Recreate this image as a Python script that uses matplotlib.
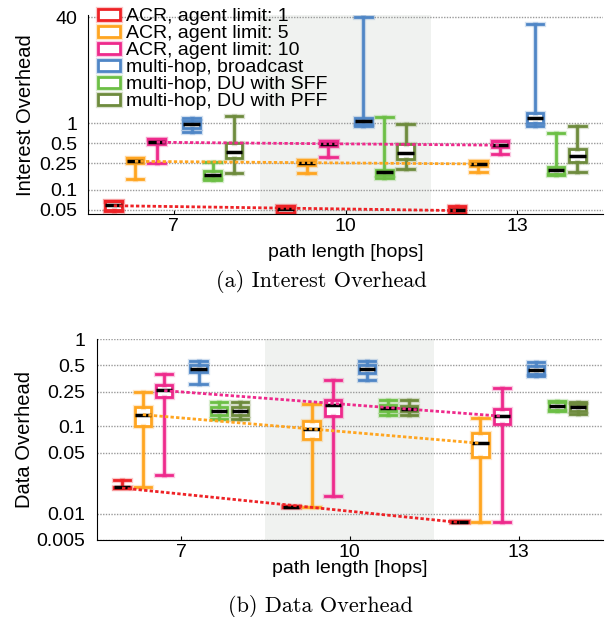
import matplotlib
matplotlib.use('Agg')
import matplotlib.pyplot as plt
import matplotlib.patheffects as pe
from matplotlib.ticker import NullLocator
import numpy as np

plt.rcParams['font.family'] = ['Liberation Sans', 'DejaVu Sans']

# ----------------------------------------------------------------
# data: every box is (whisker low, q1, median, q3, whisker high)
# one row per path length
# ----------------------------------------------------------------
path_lengths = [7, 10, 13]
series_names = ['ACR, agent limit: 1', 'ACR, agent limit: 5', 'ACR, agent limit: 10',
                'multi-hop, broadcast', 'multi-hop, DU with SFF', 'multi-hop, DU with PFF']

interest_acr1 = [[0.048, 0.049, 0.058, 0.067, 0.068],
                 [0.044, 0.045, 0.0515, 0.056, 0.057],
                 [0.043, 0.044, 0.049, 0.055, 0.056]]
interest_acr5 = [[0.147, 0.254, 0.268, 0.30, 0.30],
                 [0.179, 0.234, 0.254, 0.278, 0.278],
                 [0.183, 0.226, 0.245, 0.27, 0.27]]
interest_acr10 = [[0.254, 0.48, 0.52, 0.586, 0.586],
                  [0.31, 0.45, 0.49, 0.54, 0.54],
                  [0.347, 0.44, 0.47, 0.54, 0.54]]
interest_bcast = [[0.75, 0.86, 0.99, 1.1, 1.19],
                  [0.91, 0.97, 1.07, 1.22, 40],
                  [0.91, 1.02, 1.19, 1.42, 31.6]]
interest_sff = [[0.142, 0.151, 0.169, 0.189, 0.26],
                [0.15, 0.169, 0.183, 0.20, 1.25],
                [0.169, 0.175, 0.196, 0.218, 0.705]]
interest_pff = [[0.179, 0.30, 0.368, 0.51, 1.29],
                [0.208, 0.29, 0.36, 0.48, 0.97],
                [0.187, 0.26, 0.32, 0.41, 0.90]]

data_acr1 = [[0.0199, 0.0199, 0.0201, 0.0203, 0.0244],
             [0.0119, 0.0119, 0.012, 0.0121, 0.0121],
             [0.008, 0.008, 0.0081, 0.0082, 0.0082]]
data_acr5 = [[0.0201, 0.102, 0.136, 0.165, 0.248],
             [0.012, 0.0718, 0.0934, 0.114, 0.182],
             [0.0081, 0.0443, 0.064, 0.084, 0.125]]
data_acr10 = [[0.028, 0.217, 0.261, 0.30, 0.40],
              [0.0161, 0.130, 0.177, 0.202, 0.337],
              [0.0081, 0.1056, 0.133, 0.16, 0.275]]
data_bcast = [[0.306, 0.416, 0.458, 0.508, 0.565],
              [0.337, 0.408, 0.458, 0.508, 0.56],
              [0.374, 0.401, 0.446, 0.496, 0.54]]
data_sff = [[0.122, 0.136, 0.149, 0.167, 0.189],
            [0.134, 0.151, 0.164, 0.177, 0.202],
            [0.151, 0.155, 0.17, 0.189, 0.197]]
data_pff = [[0.122, 0.136, 0.149, 0.167, 0.189],
            [0.136, 0.148, 0.16, 0.173, 0.198],
            [0.14, 0.149, 0.167, 0.182, 0.189]]

interest_ticks = [0.05, 0.1, 0.25, 0.5, 1, 40]
interest_ticklabels = ['0.05', '0.1', '0.25', '0.5', '1', '40']
data_ticks = [0.005, 0.01, 0.05, 0.1, 0.25, 0.5, 1]
data_ticklabels = ['0.005', '0.01', '0.05', '0.1', '0.25', '0.5', '1']

colors = ['#ee2226', '#ffa520', '#ee2a8c', '#4f86c6', '#6cbf45', '#6e8b3d']
offsets = [-1.05, -0.68, -0.30, 0.31, 0.68, 1.05]
box_width = 0.29


def to_stats(rows):
    return [dict(whislo=r[0], q1=r[1], med=r[2], q3=r[3], whishi=r[4], fliers=[]) for r in rows]


def draw_boxes(ax, all_series):
    handles = []
    glow = lambda c: [pe.Stroke(linewidth=3.8, foreground=c, alpha=0.25), pe.Normal()]
    for rows, off, c in zip(all_series, offsets, colors):
        pos = [p + off for p in path_lengths]
        art = ax.bxp(to_stats(rows), positions=pos, widths=box_width, capwidths=box_width,
                     patch_artist=True, showfliers=False, manage_ticks=False,
                     boxprops=dict(facecolor='white', edgecolor=c, linewidth=2),
                     whiskerprops=dict(color=c, linewidth=2),
                     capprops=dict(color=c, linewidth=2),
                     medianprops=dict(color='black', linewidth=2.5, solid_capstyle='butt'))
        for key in ['boxes', 'whiskers', 'caps']:
            for a in art[key]:
                a.set_path_effects(glow(c))
        handles.append(art['boxes'][0])
    # dotted trend lines through the ACR medians
    for rows, off, c in zip(all_series[:3], offsets[:3], colors[:3]):
        x = np.array(path_lengths) + off
        med = np.log10([r[2] for r in rows])
        k, d = np.polyfit(x, med, 1)
        ax.plot(x[[0, -1]], 10 ** (k * x[[0, -1]] + d), linestyle=(0, (1.2, 0.8)),
                color=c, linewidth=2, zorder=5)
    return handles


def style_axes(ax, ticks, labels, ylim, label_y):
    ax.axvspan(8.5, 11.5, color='#f0f2f0', zorder=0, linewidth=0)
    ax.set_yscale('log')
    ax.set_ylim(*ylim)
    ax.set_xlim(5.5, 14.5)
    ax.set_yticks(ticks)
    ax.set_yticklabels(labels)
    ax.yaxis.set_minor_locator(NullLocator())
    ax.set_xticks(path_lengths)
    ax.tick_params(axis='x', direction='in', length=3, labelsize=14, pad=3)
    ax.tick_params(axis='y', length=0, labelsize=14, pad=8)
    ax.grid(axis='y', linestyle=(0, (1, 1)), color='#9a9a9a', linewidth=1)
    ax.set_axisbelow(True)
    for s in ['top', 'right']:
        ax.spines[s].set_visible(False)
    ax.set_xlabel('path length [hops]', fontsize=14, va='center')
    ax.xaxis.set_label_coords(0.5, label_y)


fig = plt.figure(figsize=(6.08, 6.17), dpi=100)
ax1 = fig.add_axes([88 / 608, 1 - 214 / 617, 515 / 608, 199 / 617])
ax2 = fig.add_axes([96.7 / 608, 1 - 540 / 617, 506.3 / 608, 201 / 617])

h = draw_boxes(ax1, [interest_acr1, interest_acr5, interest_acr10,
                     interest_bcast, interest_sff, interest_pff])
style_axes(ax1, interest_ticks, interest_ticklabels, (0.043, 43), -0.191)
draw_boxes(ax2, [data_acr1, data_acr5, data_acr10, data_bcast, data_sff, data_pff])
style_axes(ax2, data_ticks, data_ticklabels, (0.005, 1), -0.142)

ax1.legend(h, series_names, loc='upper left', bbox_to_anchor=(0.019, 1.035), frameon=False,
           fontsize=14, labelspacing=0, handlelength=1.15, handleheight=0.5,
           handletextpad=0.3, borderpad=0, borderaxespad=0)

fig.text(26 / 608, 1 - 115 / 617, 'Interest Overhead', rotation=90, ha='center', va='center', fontsize=14.5)
fig.text(25 / 608, 1 - 439 / 617, 'Data Overhead', rotation=90, ha='center', va='center', fontsize=14.5)
fig.text(321 / 608, 1 - 281 / 617, '(a) Interest Overhead', ha='center', va='center',
         fontsize=16, family='cmr10')
fig.text(321 / 608, 1 - 606 / 617, '(b) Data Overhead', ha='center', va='center',
         fontsize=16, family='cmr10')

plt.savefig('out.png', dpi=100)
